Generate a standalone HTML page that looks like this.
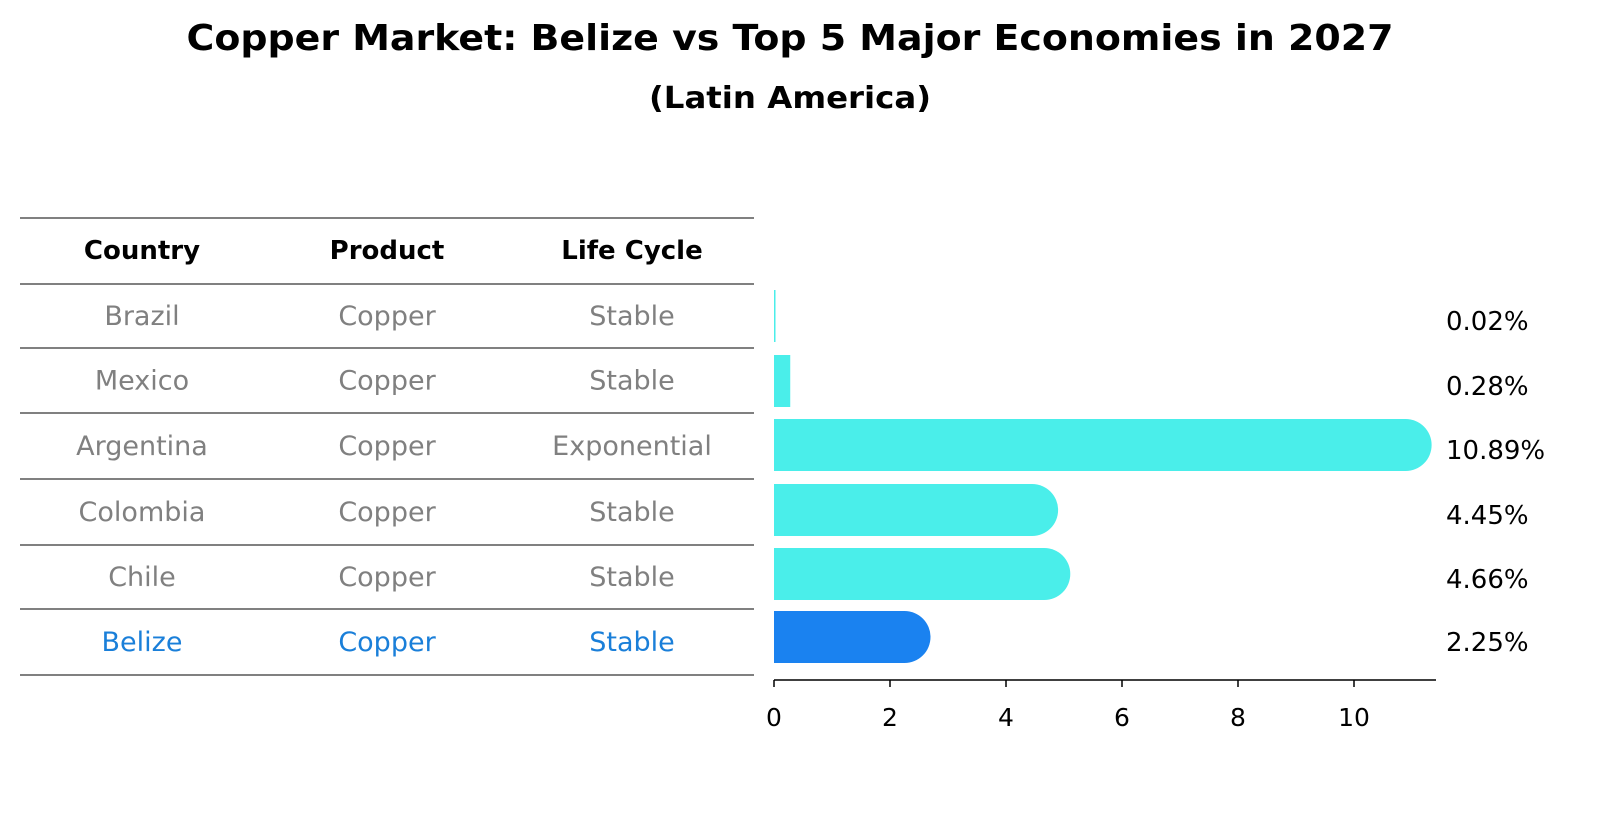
<!DOCTYPE html>
<html><head><meta charset="utf-8"><style>
body{margin:0;background:#fff;}
svg text{font-family:"DejaVu Sans","Liberation Sans",sans-serif;}
</style></head><body>
<svg width="1604" height="823" xmlns="http://www.w3.org/2000/svg" id="chart">
<text x="790" y="50" text-anchor="middle" font-size="36" font-weight="bold" textLength="1207" lengthAdjust="spacingAndGlyphs">Copper Market: Belize vs Top 5 Major Economies in 2027</text>
<text x="790" y="108" text-anchor="middle" font-size="30" font-weight="bold" textLength="282" lengthAdjust="spacingAndGlyphs">(Latin America)</text>
<g id="table"></g>
<g id="bars"></g>
</svg>
<script>
const countries=["Brazil","Mexico","Argentina","Colombia","Chile","Belize"];
const products=["Copper","Copper","Copper","Copper","Copper","Copper"];
const lifecycles=["Stable","Stable","Exponential","Stable","Stable","Stable"];
const values=[0.02,0.28,10.89,4.45,4.66,2.25];
const valueLabels=["0.02%","0.28%","10.89%","4.45%","4.66%","2.25%"];
const ticks=[0,2,4,6,8,10];
const NS="http://www.w3.org/2000/svg";
function mk(tag,attrs,parent,text){const e=document.createElementNS(NS,tag);for(const k in attrs)e.setAttribute(k,attrs[k]);if(text!==undefined)e.textContent=text;parent.appendChild(e);return e;}
const table=document.getElementById('table');
const lineYs=[218,284,348,413,479,545,609,675];
lineYs.forEach(y=>{const l=mk('line',{x1:20,x2:754,y1:y,y2:y,stroke:'#000','stroke-width':1},table);

});
const colX=[142,387,632];
["Country","Product","Life Cycle"].forEach((h,i)=>{const t=mk('text',{x:colX[i],y:259,'text-anchor':'middle','font-size':26,'font-weight':'bold'},table,h);

});
countries.forEach((c,r)=>{const y=(lineYs[r+1]+lineYs[r+2])/2+9;const col=c==="Belize"?"#1a7fd9":"#808080";
[c,products[r],lifecycles[r]].forEach((v,i)=>{const t=mk('text',{x:colX[i],y:y,'text-anchor':'middle','font-size':27,fill:col},table,v);

});});
const bars=document.getElementById('bars');
const x0=774,px=58;const xs=v=>x0+v*px;
const centers=[316,381,445,510,574,637];const h=52,r=26;
values.forEach((v,i)=>{const cy=centers[i],top=cy-h/2;const xe=xs(v);const col=countries[i]==="Belize"?"#1a82f0":"#4aeeea";
let el;
if(xe-x0>r){el=mk('path',{d:`M${x0},${top} H${xe} A${r},${r} 0 0 1 ${xe},${top+h} H${x0} Z`,fill:col},bars);}
else{el=mk('rect',{x:x0,y:top,width:Math.max(xe-x0,1.5),height:h,fill:col},bars);}


const t=mk('text',{x:1446,y:cy+14,'font-size':26},bars,valueLabels[i]);

});
const ax=mk('line',{x1:x0,x2:1436,y1:680,y2:680,stroke:'#000','stroke-width':1.5},bars);


ticks.forEach(tv=>{const x=xs(tv);const tk=mk('line',{x1:x,x2:x,y1:680,y2:687,stroke:'#000','stroke-width':1.5},bars);


const t=mk('text',{x:x,y:726,'text-anchor':'middle','font-size':25},bars,String(tv));

});
</script>
</body></html>
